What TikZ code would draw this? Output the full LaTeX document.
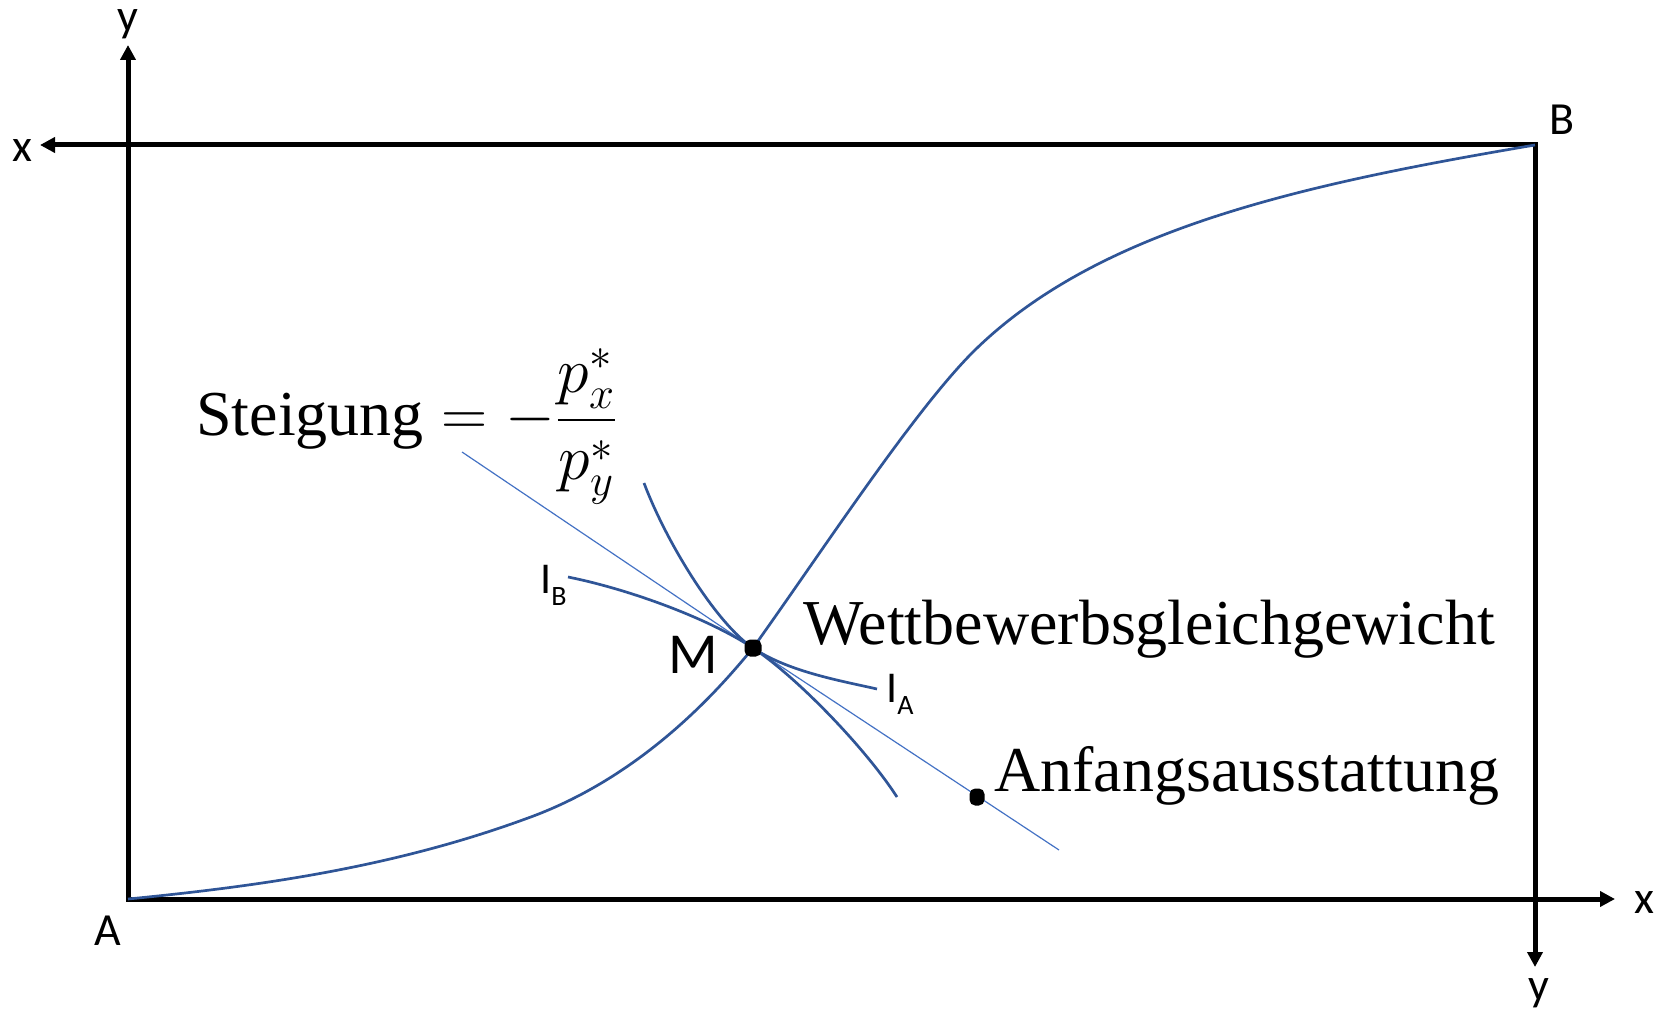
\RequirePackage{fix-cm}
\documentclass[tikz,border=0pt]{standalone}
\usepackage{amsmath}
\usepackage{fontspec}
\setmainfont{Liberation Serif}
\setsansfont{Carlito}
\usetikzlibrary{arrows.meta}
\definecolor{curveblue}{HTML}{2F5597}
\definecolor{lineblue}{HTML}{4472C4}
\begin{document}
\begin{tikzpicture}[x=0.5pt,y=-0.5pt,
  boxline/.style={line width=2.5pt,black,line cap=rect},
  axisarrow/.style={boxline,-{Triangle[length=7.5pt,width=7.5pt]}},
  ccurve/.style={curveblue,line width=1.35pt},
  priceline/.style={lineblue,line width=0.6pt},
  serif/.style={font=\fontsize{32}{36}\selectfont,inner sep=0pt},
  sanslbl/.style={font=\sffamily\fontsize{23}{26}\selectfont,inner sep=0pt},
  edot/.style={rectangle,rounded corners=2.8pt,fill=black,inner sep=0pt,minimum width=8.5pt,minimum height=8.5pt},
]
\useasboundingbox (0,0) rectangle (1664,1010);
% corners and axis tips
\coordinate (A) at (128,899);
\coordinate (B) at (1535,145);
\coordinate (ytip) at (128,45);
\coordinate (xtipL) at (40,145);
\coordinate (xtipR) at (1615,899);
\coordinate (ytipD) at (1535,967);
% axes
\draw[axisarrow] (A) -- (ytip);
\draw[axisarrow] (B) -- (xtipL);
\draw[axisarrow] (A) -- (xtipR);
\draw[axisarrow] (B) -- (ytipD);
% points
\coordinate (M) at (753,648);
\coordinate (E) at (977,797);
\coordinate (Q) at (528,818);
\coordinate (R) at (975,350);
\coordinate (P1) at (462,452);
\coordinate (P2) at (1059,850);
\coordinate (IAs) at (644,483);
\coordinate (IAe) at (877,689);
\coordinate (IBs) at (568,577);
\coordinate (IBe) at (897,797);
% price line
\draw[priceline] (P1) -- (M) -- (P2);
% contract curve
\draw[ccurve] (A) .. controls (261,886) and (395,867) .. (Q)
  .. controls (650,774) and (728,678) .. (M)
  .. controls (823,550) and (915,409) .. (R)
  .. controls (1100,228) and (1305,184) .. (B);
% indifference curve A
\draw[ccurve] (IAs) .. controls (667,544) and (717,624) .. (M)
  .. controls (789,672) and (842,681) .. (IAe);
% indifference curve B
\draw[ccurve] (IBs) .. controls (628,589) and (708,618) .. (M)
  .. controls (798,678) and (866,749) .. (IBe);
\node[edot] (Mdot) at (M) {};
\node[edot,minimum width=7.5pt,minimum height=8.5pt] (Edot) at (E) {};
% labels
\node[sanslbl,anchor=base] (ly1) at (128,32) {y};
\node[sanslbl,anchor=base] (lx1) at (22,162) {x};
\node[sanslbl,anchor=base] (lB) at (1562,135) {B};
\node[sanslbl,anchor=base] (lx2) at (1644,913) {x};
\node[sanslbl,anchor=base] (ly2) at (1539,1000) {y};
\node[sanslbl,anchor=base] (lA) at (108,945) {A};
\node[sanslbl,font=\sffamily\fontsize{29}{30}\selectfont,anchor=base] (lM) at (693,673) {M};
\node[sanslbl,font=\sffamily\fontsize{22}{24}\selectfont,anchor=base west] (lIB) at (540,593) {I\raisebox{-6pt}{\fontsize{14}{14}\selectfont B}};
\node[sanslbl,font=\sffamily\fontsize{22}{24}\selectfont,anchor=base west] (lIA) at (886,702) {I\raisebox{-6pt}{\fontsize{14}{14}\selectfont A}};
\node[serif,anchor=base west] (lW) at (803,644) {Wettbewerbsgleichgewicht};
\node[serif,anchor=base west] (lE) at (994,791) {Anfangsausstattung};
\node[serif,anchor=base west] (lS) at (196,436) {$\text{Steigung} = -\dfrac{p_x^*}{p_y^*}$};
\end{tikzpicture}
\end{document}
